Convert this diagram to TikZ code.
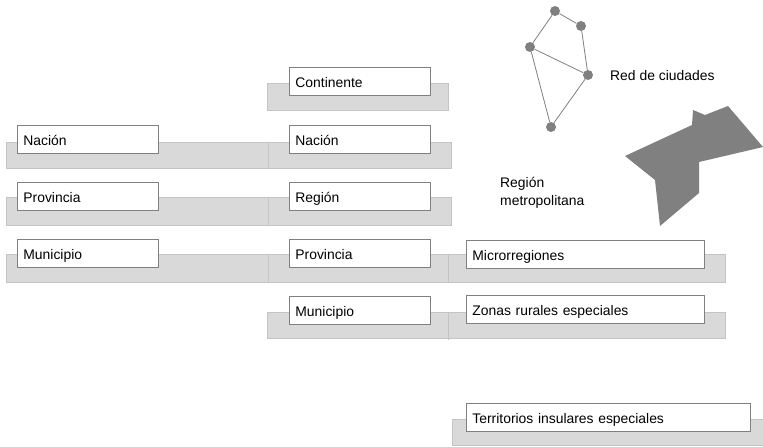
\documentclass[tikz,border=0pt]{standalone}
\usepackage{fontspec}
\setmainfont{Liberation Sans}
\definecolor{bandfill}{HTML}{D9D9D9}
\definecolor{bandline}{HTML}{C4C4C4}
\definecolor{boxline}{HTML}{808080}
\definecolor{dark}{HTML}{808080}
\begin{document}
\begin{tikzpicture}[x=1pt,y=-1pt,
  band/.style={fill=bandfill,draw=bandline,line width=0.8pt},
  divider/.style={draw=bandline,line width=0.9pt},
  lvl/.style={draw=boxline,fill=white,line width=0.8pt,anchor=north west,
    minimum height=28pt,inner xsep=6pt,inner ysep=0pt,
    text height=14.5pt,text depth=2pt,
    minimum width=#1pt,text width=#1pt-12pt,
    font=\fontsize{13.9}{16}\selectfont},
  lvl/.default=141,
  city/.style={circle,fill=dark,inner sep=0pt,minimum size=10pt},
  road/.style={draw=dark,line width=0.8pt},
  caption/.style={anchor=west,inner sep=0pt,align=left,
    font=\fontsize{13.9}{16}\selectfont}]
\useasboundingbox (0,0) rectangle (763,447);
% grey bands behind each level
\fill[band] (267,83) rectangle (448,110);
\fill[band] (6,142) rectangle (451,168);
\fill[band] (6,197) rectangle (451,225);
\fill[band] (6,254) rectangle (725,282);
\fill[band] (267,312) rectangle (725,338);
\fill[band] (452,419) rectangle (770,445);
\draw[divider] (268,142) -- (268,168);
\draw[divider] (268,197) -- (268,225);
\draw[divider] (268,254) -- (268,282);
\draw[divider] (448,254) -- (448,282);
\draw[divider] (448,312) -- (448,340);
% level boxes
\node[lvl] (left1) at (17,125) {Nación};
\node[lvl] (left2) at (17,182) {Provincia};
\node[lvl] (left3) at (17,239) {Municipio};
\node[lvl] (mid0) at (289,67) {Continente};
\node[lvl] (mid1) at (289,125) {Nación};
\node[lvl] (mid2) at (289,182) {Región};
\node[lvl] (mid3) at (289,239) {Provincia};
\node[lvl] (mid4) at (289,296) {Municipio};
\node[lvl=238] (right1) at (466,240) {Microrregiones};
\node[lvl=238] (right2) at (466,295) {Zonas rurales especiales};
\node[lvl=284] (right3) at (466,403) {Territorios insulares especiales};
% city network
\node[city] (c1) at (555,11) {};
\node[city] (c2) at (581,26) {};
\node[city] (c3) at (530,47) {};
\node[city] (c4) at (588,75) {};
\node[city] (c5) at (551,127) {};
\draw[road] (c1) -- (c2) (c1) -- (c3) (c2) -- (c4) (c3) -- (c4)
  (c3) -- (c5) (c4) -- (c5);
\node[caption] (redlabel) at (610,76) {Red de ciudades};
% metropolitan region shape
\fill[dark] (625,156) -- (692,125) -- (693,110) -- (705,115) -- (728,106)
  -- (763,147) -- (699,162) -- (699,193) -- (660,226) -- (655,180) -- cycle;
\node[caption] (metrolabel) at (500,193) {Región\\[2pt]metropolitana};
\end{tikzpicture}
\end{document}
